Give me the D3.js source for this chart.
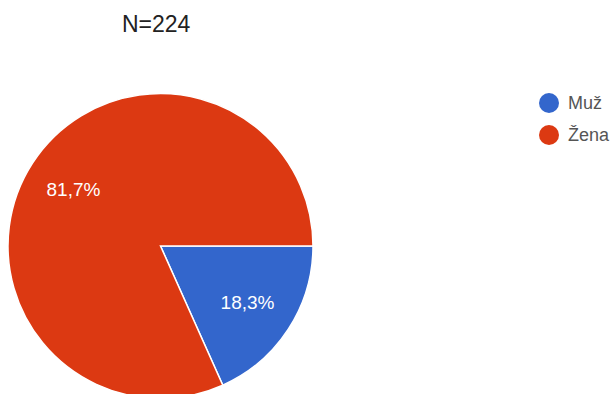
<!DOCTYPE html>
<html lang="cs">
<head>
    <meta charset="UTF-8">
    <title>N=224</title>
    <script src="https://d3js.org/d3.v7.min.js"></script>
    <style>
        body {
            margin: 0;
            padding: 0;
            background: #fff;
            font-family: 'Liberation Sans', Arial, sans-serif;
        }
        .title {
            font-size: 23px;
            fill: #222;
        }
        .slice-label {
            font-size: 19px;
            fill: #fff;
            text-anchor: middle;
            dominant-baseline: central;
        }
        .legend text {
            font-size: 18px;
            fill: #555;
            dominant-baseline: central;
        }
    </style>
</head>
<body>
    <div id="chart"></div>

    <script>
        const labels = ["Muž", "Žena"];
        const counts = [41, 183];
        const colors = ["#3366cc", "#dc3912"];
        const total = 224;

        const width = 616, height = 394;
        const cx = 160.5, cy = 246, radius = 152.5;

        const svg = d3.select("#chart")
            .append("svg")
            .attr("width", width)
            .attr("height", height);

        svg.append("text")
            .attr("class", "title")
            .attr("x", 122)
            .attr("y", 32)
            .text("N=" + total);

        const color = d3.scaleOrdinal().domain(labels).range(colors);

        // first slice starts at 3 o'clock, going clockwise
        const pie = d3.pie()
            .sort(null)
            .startAngle(Math.PI / 2)
            .endAngle(Math.PI / 2 + 2 * Math.PI);

        const arcs = pie(counts);

        const arc = d3.arc().innerRadius(0).outerRadius(radius);
        const labelArc = d3.arc().innerRadius(radius * 0.68).outerRadius(radius * 0.68);

        const g = svg.append("g")
            .attr("transform", `translate(${cx},${cy})`);

        g.selectAll("path")
            .data(arcs)
            .join("path")
            .attr("d", arc)
            .attr("fill", (d, i) => color(labels[i]))
            .attr("stroke", "#fff")
            .attr("stroke-width", 1.5);

        const fmt = v => (v / total * 100).toFixed(1).replace(".", ",") + "%";

        g.selectAll("text")
            .data(arcs)
            .join("text")
            .attr("class", "slice-label")
            .attr("transform", d => `translate(${labelArc.centroid(d)})`)
            .text(d => fmt(d.value));

        // legend
        const legend = svg.append("g")
            .attr("class", "legend")
            .attr("transform", "translate(549,103)");

        const item = legend.selectAll("g")
            .data(labels)
            .join("g")
            .attr("transform", (d, i) => `translate(0,${i * 32})`);

        item.append("circle")
            .attr("r", 10)
            .attr("fill", d => color(d));

        item.append("text")
            .attr("x", 19)
            .attr("y", 0)
            .text(d => d);
    </script>
</body>
</html>
